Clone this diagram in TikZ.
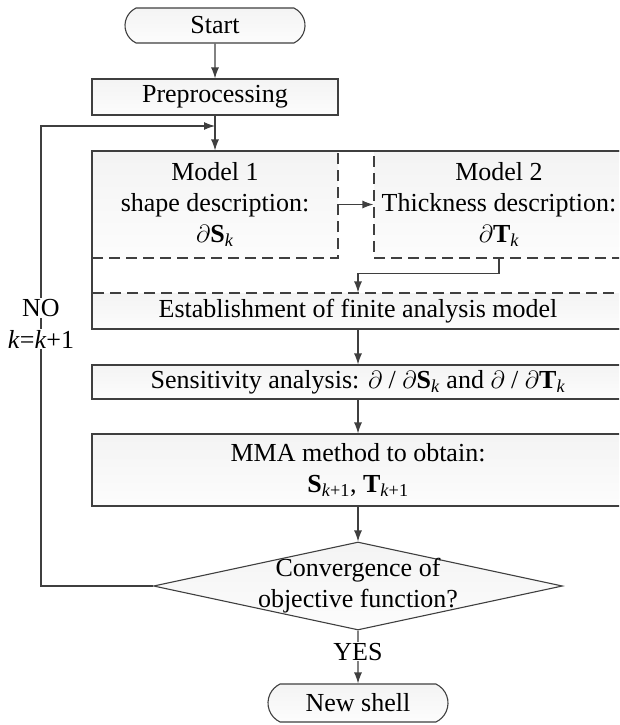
\documentclass[tikz,border=0pt]{standalone}
\usepackage{fontspec}
\setmainfont{Liberation Serif}
\usetikzlibrary{shapes.geometric,shapes.misc,arrows.meta}
\definecolor{linegray}{HTML}{3F3F3F}
\newcommand{\dpart}[1]{$\partial$\textbf{#1}\textsubscript{\textit{k}}}

\begin{document}
\begin{tikzpicture}[x=1pt, y=-1pt, font=\fontsize{26}{31}\selectfont,
    line/.style={draw=linegray, line width=1.1pt},
    arr/.style={line, -{Latex[length=11pt,width=8pt]}},
    box/.style={line, top color=gray!9, bottom color=gray!2, inner sep=0pt, align=center},
    dbox/.style={box, dash pattern=on 11pt off 6pt},
    term/.style={box, rounded rectangle, rounded rectangle arc length=130},
    lbl/.style={fill=white, inner sep=1pt}]
    \useasboundingbox (0,0) rectangle (619,725);
    \clip (0,0) rectangle (619,725);
    % Boxes
    \node[term, minimum width=180pt, minimum height=35pt] (start) at (215,25.5) {Start};
    \node[box, minimum width=246pt, minimum height=36pt] (prep) at (215,97) {Preprocessing};
    \node[dbox, minimum width=246pt, minimum height=107pt] (m1) at (215,204.5) {Model 1\\shape description:\\\dpart{S}};
    \node[dbox, minimum width=250pt, minimum height=107pt] (m2) at (499,204.5) {Model 2\\Thickness description:\\\dpart{T}};
    \node[dbox, minimum width=532pt, minimum height=36pt] (est) at (358,311) {Establishment of finite analysis model};
    \node[line, minimum width=532pt, minimum height=178pt] (frame) at (358,240) {};
    \node[box, minimum width=532pt, minimum height=34pt] (sens) at (358,382) {Sensitivity analysis: $\partial$ / \dpart{S} and $\partial$ / \dpart{T}};
    \node[box, minimum width=532pt, minimum height=72pt] (mma) at (358,470) {MMA method to obtain:\\\textbf{S}\textsubscript{\textit{k}+1}, \textbf{T}\textsubscript{\textit{k}+1}};
    \node[box, diamond, minimum width=409pt, minimum height=88pt] (conv) at (358,586) {};
    \node[align=center] (convtxt) at (conv) {Convergence of\\objective function?};
    \node[term, minimum width=180pt, minimum height=38pt] (shell) at (358,703) {New shell};
    % Arrows
    \draw[arr] (start) -- (prep);
    \draw[arr] (prep) -- (m1);
    \draw[arr] (m1) -- (m2);
    \draw[arr] (m2.south) -- ++(0,15) -| (est.north);
    \draw[arr] (est) -- (sens);
    \draw[arr] (sens) -- (mma);
    \draw[arr] (mma) -- (conv);
    \draw[arr] (conv) -- node[lbl, pos=0.4] (yes) {YES} (shell);
    % Loop back
    \coordinate (bend) at (41,126);
    \draw[arr] (conv.west) -| (bend) -- (bend -| prep.south);
    \node[lbl] (no) at (41,308) {NO};
    \node[lbl] (kinc) at (41,339) {\textit{k}=\textit{k}+1};
\end{tikzpicture}
\end{document}
